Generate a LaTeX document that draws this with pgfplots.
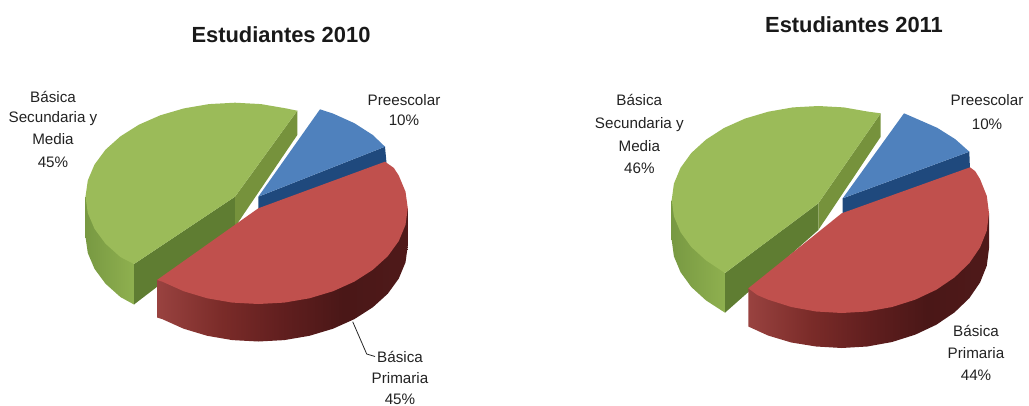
\documentclass[border=0pt]{standalone}
\usepackage{fontspec}
\setmainfont{Liberation Sans}
\usepackage{pgfplots}
\pgfplotsset{compat=1.18}
\definecolor{gtop}{HTML}{9BBB59}
\definecolor{gfront}{HTML}{5F7D32}
\definecolor{gright}{HTML}{76923C}
\definecolor{rtop}{HTML}{C0504D}
\definecolor{btop}{HTML}{4F81BD}
\definecolor{bside}{HTML}{1F497D}
\definecolor{txt}{HTML}{222222}
\pgfdeclarehorizontalshading{redside}{100bp}{rgb(0bp)=(.60,.26,.25);rgb(25bp)=(.60,.26,.25);rgb(38bp)=(.48,.17,.16);rgb(50bp)=(.38,.12,.12);rgb(62bp)=(.29,.09,.09);rgb(75bp)=(.31,.10,.10);rgb(100bp)=(.31,.10,.10)}
\pgfdeclarehorizontalshading{greenside}{100bp}{rgb(0bp)=(.47,.60,.26);rgb(25bp)=(.47,.60,.26);rgb(75bp)=(.56,.69,.31);rgb(100bp)=(.56,.69,.31)}
\newcommand{\lbl}[3]{\node[anchor=base,inner sep=0pt,text=txt,font=\fontsize{15.2bp}{18bp}\selectfont] at (axis cs:#1,#2) {#3};}
\newcommand{\ttl}[3]{\node[anchor=base,inner sep=0pt,text=black!90,font=\fontsize{21.9bp}{26bp}\selectfont\bfseries] at (axis cs:#1,#2) {#3};}
\begin{document}
\begin{tikzpicture}
\useasboundingbox (0,0) rectangle (1029bp,406bp);
\clip (0,0) rectangle (1029bp,406bp);
\begin{axis}[at={(0,0)},anchor=south west,scale only axis,width=1029bp,height=406bp,
  xmin=0,xmax=1029,ymin=0,ymax=406,y dir=reverse,hide axis,clip=false]
% ---- 2010 ----
\addplot[shade,shading=greenside,draw=none] coordinates {(85.5,196.7)(134,264)(134,304.5)(120.5,297.1)(105.5,283.7)(94.5,268.8)(87.8,253)(85.5,236.7)};
\addplot[fill=gfront,draw=none] coordinates {(134,264)(235,196.7)(235,227)(134,304.5)};
\addplot[fill=gright,draw=none] coordinates {(235,196.7)(297.3,110.7)(297.3,135)(235,227)};
\addplot[fill=gtop,draw=none] coordinates {(297.3,110.7)(286.1,108.4)(261,104.1)(235,102.7)(209,104.1)(183.9,108.4)(160.3,115.3)(138.9,124.7)(120.5,136.3)(105.5,149.7)(94.5,164.6)(87.8,180.4)(85.5,196.7)(87.8,213)(94.5,228.8)(105.5,243.7)(120.5,257.1)(134,264)(235,196.7)};
\addplot[fill=bside,draw=none] coordinates {(258.3,196.7)(385,146.7)(386.7,165)(258.3,212)};
\addplot[fill=btop,draw=none] coordinates {(258.3,196.7)(320,109.3)(333.1,113.6)(354.4,123.2)(372.8,135)(385,146.7)};
\addplot[shade,shading=redside,draw=none] coordinates {(157,280)(407.8,208.3)(407.8,245.8)(405.5,262.4)(398.8,278.5)(387.8,293.7)(372.8,307.3)(354.4,319.1)(333.1,328.7)(309.4,335.8)(284.3,340.1)(258.3,341.5)(232.3,340.1)(207.2,335.8)(183.6,328.7)(162.2,319.1)(157,317.5)};
\addplot[fill=rtop,draw=none] coordinates {(258.3,208.3)(385,161.7)(393.8,167.9)(398.8,175.6)(405.5,191.7)(407.8,208.3)(405.5,224.9)(398.8,241)(387.8,256.2)(372.8,269.8)(354.4,281.6)(333.1,291.2)(309.4,298.3)(284.3,302.6)(258.3,304)(232.3,302.6)(207.2,298.3)(183.6,291.2)(162.2,281.6)(157,280)};
\addplot[draw=black!85,line width=0.8pt] coordinates {(352.7,321.7)(366.7,354)(375,356.5)};
% ---- 2011 ----
\addplot[shade,shading=greenside,draw=none] coordinates {(671.7,200)(725,273)(725,312.7)(706,300.4)(691.3,287)(680.5,272.1)(673.9,256.3)(671.7,240)};
\addplot[fill=gfront,draw=none] coordinates {(725,273)(818.3,203.3)(818.3,230)(725,312.7)};
\addplot[fill=gright,draw=none] coordinates {(818.3,203.3)(880.7,113.3)(880.7,136.7)(818.3,230)};
\addplot[fill=gtop,draw=none] coordinates {(880.7,113.3)(868.4,111.7)(843.8,107.4)(818.3,106)(792.8,107.4)(768.2,111.7)(745,118.6)(724,128)(706,139.6)(691.3,153)(680.5,167.9)(673.9,183.7)(671.7,200)(673.9,216.3)(680.5,232.1)(691.3,247)(706,260.4)(725,273)(818.3,203.3)};
\addplot[fill=bside,draw=none] coordinates {(842.7,198.3)(969.3,151.7)(970,170)(842.7,216)};
\addplot[fill=btop,draw=none] coordinates {(842.7,198.3)(904,113.3)(916.2,118.6)(937.2,127.8)(955.3,139.2)(969.3,151.7)};
\addplot[shade,shading=redside,draw=none] coordinates {(748.3,288.3)(989,213.3)(989,248.3)(986.8,265.6)(980.1,282.4)(969.3,298.2)(954.5,312.4)(936.4,324.7)(915.4,334.6)(892.1,342)(867.3,346.5)(841.7,348)(816.1,346.5)(791.3,342.5)(768,335.5)(748.3,326.5)};
\addplot[fill=rtop,draw=none] coordinates {(841.7,213.3)(970,167.3)(975.2,171.2)(980.1,179.2)(986.8,196)(989,213.3)(986.8,230.6)(980.1,247.4)(969.3,263.2)(954.5,277.4)(936.4,289.7)(915.4,299.6)(892.1,307)(867.3,311.5)(841.7,313)(816.1,311.5)(791.3,307)(768,299.6)(757.2,295)(748.3,288.3)};
% ---- text ----
\ttl{281}{43}{Estudiantes 2010}
\ttl{854}{33}{Estudiantes 2011}
\lbl{53}{102.5}{Básica}
\lbl{53}{122.5}{Secundaria y}
\lbl{53}{144.5}{Media}
\lbl{53}{167.5}{45\%}
\lbl{404}{105.5}{Preescolar}
\lbl{404}{126}{10\%}
\lbl{400}{362.5}{Básica}
\lbl{400}{383.5}{Primaria}
\lbl{400}{404}{45\%}
\lbl{639.3}{105.5}{Básica}
\lbl{639.3}{128.5}{Secundaria y}
\lbl{639.3}{151}{Media}
\lbl{639.3}{173.5}{46\%}
\lbl{987}{106}{Preescolar}
\lbl{987}{129.5}{10\%}
\lbl{976}{336}{Básica}
\lbl{976}{358}{Primaria}
\lbl{976}{380.5}{44\%}
\end{axis}
\end{tikzpicture}
\end{document}
